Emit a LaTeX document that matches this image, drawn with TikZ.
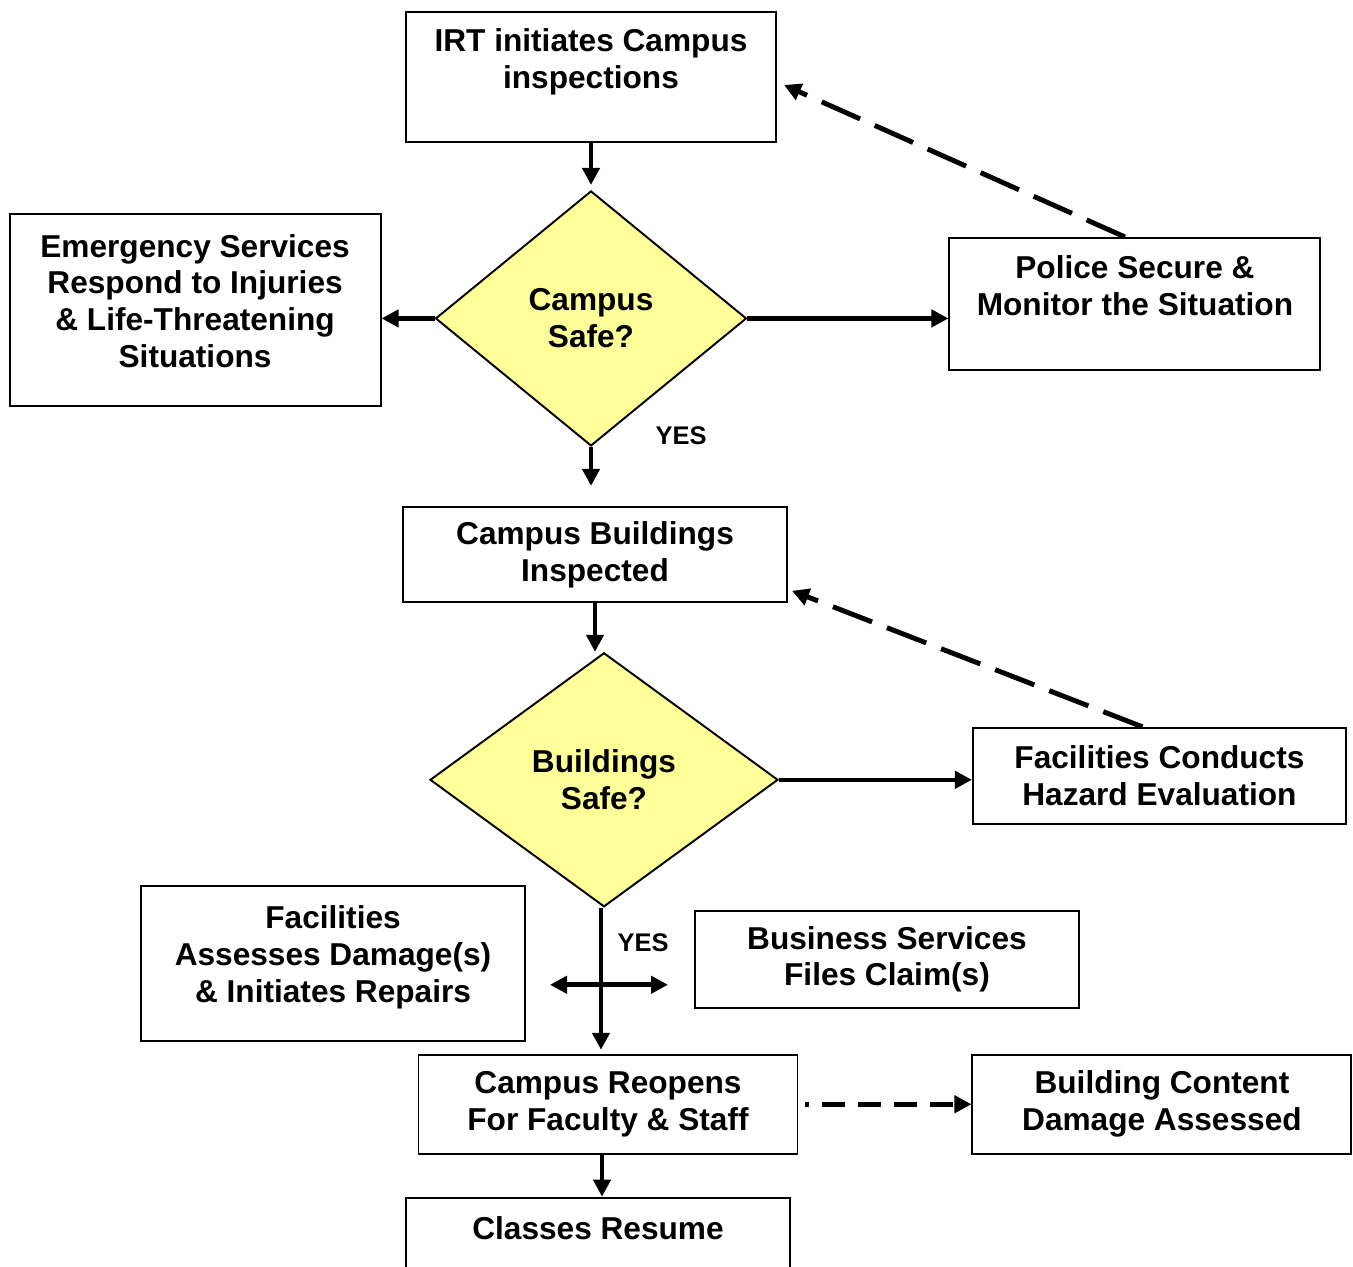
\documentclass[tikz,border=0pt]{standalone}
\usepackage{fontspec}
\setmainfont{Liberation Sans}
\usepackage{xcolor}
\usepackage{tikz}
\usetikzlibrary{arrows.meta, positioning, shapes.geometric}
\definecolor{decfill}{RGB}{255,255,153}

\begin{document}
\begin{tikzpicture}[
  blk/.style={draw, line width=1.1pt, align=center, inner sep=0pt,
              font=\bfseries\fontsize{18}{21}\selectfont},
  dec/.style={draw, diamond, line width=1.1pt, fill=decfill, align=center, inner sep=0pt,
              font=\bfseries\fontsize{18}{21}\selectfont},
  lbl/.style={font=\bfseries\fontsize{14.5}{17}\selectfont},
  arr/.style={-{Triangle[length=0.34cm, width=0.34cm]}, line width=2.6pt},
  darr/.style={arr, line width=2.8pt, dash pattern=on 0.84cm off 0.32cm}
]
  \useasboundingbox (0,0) rectangle (27.06,-25.32);

  \node[blk, minimum width=7.4cm, minimum height=2.6cm] (irt) at (11.82,-1.54) {IRT initiates Campus\\inspections\\~};
  \node[dec, minimum width=6.22cm, minimum height=5.1cm, below=0.94cm of irt] (d1) {Campus\\Safe?};
  \node[blk, minimum width=7.42cm, minimum height=3.84cm, left=1.06cm of d1, yshift=0.17cm] (es) {Emergency Services\\Respond to Injuries\\\& Life-Threatening\\Situations\\[-10.8pt]~};
  \node[blk, minimum width=7.42cm, minimum height=2.64cm, right=4.02cm of d1, yshift=0.29cm] (police) {Police Secure \&\\Monitor the Situation\\~};
  \node[blk, minimum width=7.68cm, minimum height=1.9cm, below=1.18cm of d1, xshift=0.08cm] (cbi) {Campus Buildings\\Inspected};
  \node[dec, minimum width=6.96cm, minimum height=5.08cm, below=0.98cm of cbi, xshift=0.18cm] (d2) {Buildings\\Safe?};
  \node[blk, minimum width=7.46cm, minimum height=1.92cm, right=3.86cm of d2, yshift=0.08cm] (fac) {Facilities Conducts\\Hazard Evaluation};
  \coordinate[below=1.54cm of d2.south, xshift=-0.06cm] (cross);
  \node[blk, minimum width=7.68cm, minimum height=3.1cm, left=1.5cm of cross, yshift=0.43cm] (fad) {Facilities\\Assesses Damage(s)\\\& Initiates Repairs\\[-10.8pt]~};
  \node[blk, minimum width=7.68cm, minimum height=1.94cm, right=1.86cm of cross, yshift=0.51cm] (bus) {Business Services\\Files Claim(s)};
  \node[blk, minimum width=7.58cm, minimum height=1.98cm, below=2.92cm of d2, xshift=0.08cm] (reopen) {Campus Reopens\\For Faculty \& Staff};
  \node[blk, minimum width=7.58cm, minimum height=1.98cm, right=3.46cm of reopen] (bcd) {Building Content\\Damage Assessed};
  \node[blk, minimum width=7.68cm, minimum height=1.94cm, below=0.84cm of reopen, xshift=-0.2cm] (classes) {Classes Resume\\~};

  \node[lbl] (yes1) at ([xshift=1.8cm, yshift=0.22cm]d1.south) {YES};
  \node[lbl] (yes2) at ([xshift=0.84cm, yshift=0.84cm]cross) {YES};

  \draw[arr, shorten >=0.1cm] (irt.south) -- (irt.south |- d1.north);
  \draw[arr] (d1.west) -- (d1.west -| es.east);
  \draw[arr] (d1.east) -- (d1.east -| police.west);
  \draw[arr, shorten >=0.4cm] (d1.south) -- (d1.south |- cbi.north);
  \draw[darr] ([xshift=-0.2cm]police.north) -- ([shift={(0.14cm,-0.16cm)}]irt.east);
  \draw[arr] (cbi.south) -- (cbi.south |- d2.north);
  \draw[darr] ([xshift=-0.34cm]fac.north) -- ([shift={(0.08cm,0.24cm)}]cbi.south east);
  \draw[arr] (d2.east) -- (d2.east -| fac.west);
  \draw[arr, shorten >=0.08cm] ([xshift=-0.06cm]d2.south) -- ([xshift=-0.06cm]d2.south |- reopen.north);
  \draw[arr, {Triangle[length=0.34cm, width=0.34cm]}-{Triangle[length=0.34cm, width=0.34cm]}, shorten <=0.48cm, shorten >=0.52cm] (fad.east |- cross) -- (bus.west |- cross);
  \draw[arr, line width=2.8pt, dash pattern=on 0.46cm off 0.26cm, dash phase=0.38cm] ([xshift=0.14cm]reopen.east) -- (bcd.west);
  \draw[arr] ([xshift=-0.12cm]reopen.south) -- ([xshift=-0.12cm]reopen.south |- classes.north);
\end{tikzpicture}
\end{document}
